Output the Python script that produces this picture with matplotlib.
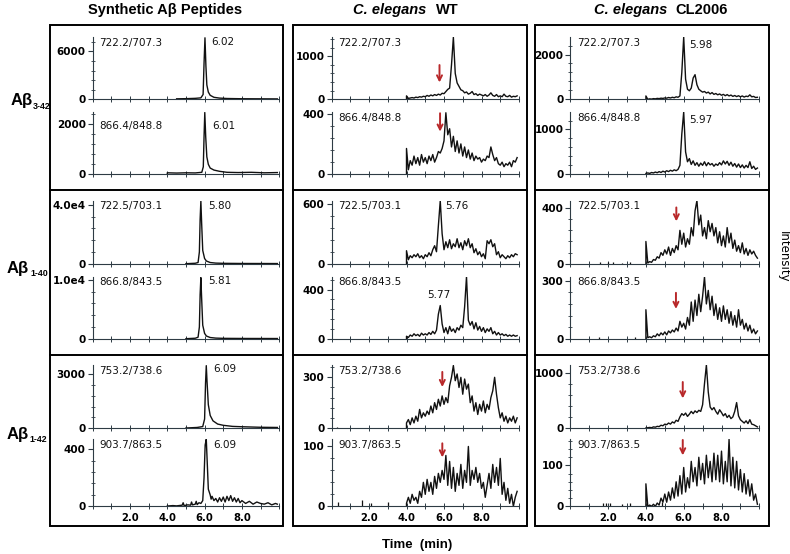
"""
LC-MS/MS chromatograms of Abeta peptides: synthetic standards vs C. elegans WT and CL2006
"""

import matplotlib
matplotlib.use("Agg")
import matplotlib.pyplot as plt
from matplotlib.lines import Line2D
from matplotlib.patches import Rectangle
from matplotlib.ticker import MultipleLocator

# ---------------------------------------------------------------- data
COLUMNS = ["Synthetic Aβ Peptides", "C. elegans", "C. elegans"]
STRAINS = ["", "WT", "CL2006"]
PEPTIDES = ["3-42", "1-40", "1-42"]
TRANSITIONS = ["722.2/707.3", "866.4/848.8", "722.5/703.1",
               "866.8/843.5", "753.2/738.6", "903.7/863.5"]

# time grid (min) used by the worm extracts, 4.0 .. 9.9
T_GRID = [4.0, 4.1, 4.2, 4.3, 4.4, 4.5, 4.6, 4.7, 4.8, 4.9,
          5.0, 5.1, 5.2, 5.3, 5.4, 5.5, 5.6, 5.7, 5.8, 5.9,
          6.0, 6.1, 6.2, 6.3, 6.4, 6.5, 6.6, 6.7, 6.8, 6.9,
          7.0, 7.1, 7.2, 7.3, 7.4, 7.5, 7.6, 7.7, 7.8, 7.9,
          8.0, 8.1, 8.2, 8.3, 8.4, 8.5, 8.6, 8.7, 8.8, 8.9,
          9.0, 9.1, 9.2, 9.3, 9.4, 9.5, 9.6, 9.7, 9.8, 9.9]

# synthetic standards
SYN_342_A_T = [4.5, 5.0, 5.5, 5.8, 5.92, 5.97, 6.02, 6.07, 6.12, 6.2, 6.3, 6.5, 6.8, 7.2, 8.0, 9.0, 9.9]
SYN_342_A = [60, 80, 120, 180, 600, 4500, 7700, 4200, 1800, 900, 500, 250, 150, 100, 70, 60, 50]
SYN_342_B_T = [4.0, 4.0, 4.5, 5.0, 5.5, 5.85, 5.93, 5.97, 6.01, 6.06, 6.12, 6.2, 6.3, 6.5, 6.8, 7.2,
               7.8, 8.5, 9.2, 9.9]
SYN_342_B = [0, 60, 50, 60, 55, 80, 300, 1500, 2480, 1500, 700, 400, 250, 170, 120, 80, 70, 80, 60, 70]
SYN_140_T = [5.0, 5.5, 5.65, 5.72, 5.76, 5.80, 5.84, 5.9, 6.0, 6.1, 6.3, 6.6, 7.0, 8.0, 9.9]
SYN_140_A = [0, 300, 800, 8000, 30000, 42500, 28000, 9000, 3500, 1800, 800, 400, 250, 150, 100]
SYN_140_B = [0, 80, 250, 2000, 7500, 10400, 7000, 2300, 900, 450, 200, 100, 60, 40, 30]
SYN_142_A_T = [5.0, 5.6, 5.9, 6.0, 6.05, 6.09, 6.13, 6.2, 6.3, 6.45, 6.7, 7.0, 7.5, 8.0, 9.0, 9.9]
SYN_142_A = [0, 30, 80, 500, 2500, 3480, 2600, 1300, 700, 400, 220, 150, 90, 70, 40, 30]
SYN_142_B_T = [4.0, 4.3, 4.5, 4.8, 4.85, 4.9, 5.1, 5.25, 5.3, 5.35,
               5.5, 5.55, 5.6, 5.7, 5.8, 5.9, 5.97, 6.03, 6.09, 6.15,
               6.2, 6.3, 6.35, 6.4, 6.5, 6.6, 6.7, 6.8, 6.9, 7.0,
               7.1, 7.2, 7.3, 7.4, 7.5, 7.6, 7.7, 7.8, 7.9, 8.0,
               8.2, 8.4, 8.6, 8.8, 9.0, 9.2, 9.4, 9.6, 9.8, 9.9]
SYN_142_B = [2, 5, 3, 8, 25, 5, 10, 8, 30, 10,
             15, 35, 12, 25, 20, 40, 200, 430, 470, 280,
             120, 80, 50, 70, 40, 55, 30, 60, 35, 65,
             30, 70, 40, 75, 35, 60, 30, 55, 25, 40,
             20, 35, 15, 30, 20, 15, 25, 10, 20, 15]

# C. elegans WT
WT_342_A = [80, 20, 30, 40, 30, 50, 40, 60, 50, 70,
            60, 90, 70, 100, 80, 110, 90, 120, 100, 140,
            130, 180, 230, 260, 800, 1440, 600, 380, 300, 220,
            200, 150, 170, 120, 140, 180, 110, 130, 90, 120,
            100, 80, 110, 70, 100, 150, 90, 70, 110, 60,
            80, 60, 120, 70, 60, 90, 50, 70, 60, 80]
WT_342_B = [170, 30, 90, 60, 120, 70, 110, 60, 130, 80,
            110, 70, 120, 90, 130, 80, 110, 150, 140, 170,
            220, 405, 260, 300, 180, 250, 150, 220, 140, 200,
            120, 180, 110, 160, 100, 140, 90, 120, 100, 110,
            80, 100, 90, 120, 110, 180, 130, 90, 110, 70,
            60, 80, 50, 70, 60, 80, 50, 90, 80, 110]
WT_140_A = [130, 40, 80, 60, 90, 70, 100, 60, 80, 50,
            90, 70, 110, 80, 140, 180, 120, 380, 630, 300,
            140, 220, 160, 240, 150, 200, 170, 250, 160, 210,
            140, 230, 180, 250, 160, 200, 110, 150, 90, 120,
            70, 100, 50, 230, 200, 240, 170, 200, 90, 120,
            60, 90, 70, 50, 80, 60, 90, 70, 100, 90]
WT_140_B = [20, 10, 30, 20, 40, 25, 35, 20, 45, 30,
            40, 30, 50, 35, 60, 40, 70, 200, 270, 120,
            50, 90, 40, 100, 60, 80, 50, 90, 70, 110,
            90, 260, 505, 150, 110, 140, 80, 130, 70, 100,
            60, 90, 50, 80, 60, 90, 40, 60, 30, 50,
            30, 40, 25, 35, 20, 30, 20, 30, 20, 25]
WT_142_A = [30, 50, 20, 60, 30, 70, 40, 110, 60, 90,
            70, 100, 80, 130, 90, 150, 110, 170, 130, 190,
            140, 180, 150, 250, 300, 370, 280, 320, 240, 300,
            200, 290, 230, 260, 150, 190, 100, 150, 80, 140,
            100, 160, 90, 140, 110, 180, 220, 300, 200, 120,
            60, 90, 40, 70, 30, 60, 40, 70, 30, 60]
WT_142_B = [5, 15, 5, 20, 10, 15, 5, 25, 15, 40,
            20, 45, 25, 40, 20, 50, 30, 55, 40, 60,
            45, 85, 35, 75, 30, 65, 25, 55, 35, 70,
            30, 60, 40, 100, 35, 60, 45, 65, 40, 55,
            30, 40, 15, 35, 55, 30, 70, 40, 65, 35,
            80, 20, 40, 10, 30, 5, 20, 0, 15, 25]
WT_142_A_BLIP_T = [0.3]
WT_142_A_BLIP = [6]
WT_142_B_BLIP_T = [0.36, 1.6, 2.13, 3.03]
WT_142_B_BLIP = [7, 11, 5, 7]

# C. elegans CL2006
CL_342_A = [150, 0, 20, 10, 30, 20, 40, 30, 50, 40,
            60, 50, 80, 60, 90, 70, 110, 90, 150, 1200,
            2780, 900, 450, 380, 500, 950, 1100, 650, 450, 380,
            320, 350, 280, 320, 240, 300, 220, 260, 200, 240,
            180, 220, 160, 210, 150, 190, 130, 170, 120, 160,
            110, 150, 100, 140, 120, 200, 110, 130, 80, 90]
CL_342_B = [20, 30, 20, 40, 30, 50, 35, 60, 40, 70,
            50, 80, 60, 90, 70, 100, 80, 110, 200, 900,
            1390, 500, 280, 350, 220, 300, 200, 260, 180, 250,
            200, 280, 190, 260, 210, 240, 180, 230, 200, 260,
            210, 300, 230, 290, 200, 270, 180, 240, 160, 230,
            150, 210, 140, 200, 150, 280, 130, 180, 110, 140]
CL_140_A = [160, 5, 15, 10, 30, 25, 50, 40, 80, 60,
            100, 70, 120, 60, 110, 80, 130, 100, 240, 140,
            220, 120, 180, 140, 260, 200, 380, 455, 280, 350,
            200, 260, 180, 310, 230, 290, 200, 260, 150, 230,
            130, 200, 120, 260, 150, 220, 110, 170, 90, 130,
            80, 150, 70, 110, 60, 100, 70, 90, 60, 40]
CL_140_B = [150, 5, 10, 5, 15, 10, 25, 15, 30, 20,
            35, 20, 40, 30, 45, 35, 55, 40, 90, 60,
            80, 50, 110, 70, 190, 90, 200, 120, 230, 140,
            220, 320, 180, 250, 150, 220, 120, 180, 100, 160,
            90, 170, 100, 150, 80, 140, 70, 120, 60, 150,
            70, 100, 50, 80, 40, 70, 30, 50, 25, 40]
CL_142_A = [0, 5, 10, 5, 20, 15, 30, 25, 50, 40,
            70, 60, 90, 70, 110, 90, 140, 120, 200, 260,
            230, 270, 210, 250, 300, 260, 310, 280, 320, 300,
            420, 800, 1140, 650, 380, 330, 370, 300, 250, 330,
            280, 220, 260, 190, 230, 170, 200, 300, 460, 220,
            150, 120, 90, 130, 80, 150, 70, 60, 40, 20]
CL_142_B = [55, 0, 3, 0, 5, 0, 8, 3, 20, 10,
            30, 10, 35, 15, 45, 20, 60, 25, 75, 30,
            95, 35, 70, 45, 110, 60, 95, 50, 120, 65,
            105, 55, 125, 70, 110, 60, 130, 65, 125, 60,
            135, 55, 110, 60, 164, 50, 120, 45, 110, 40,
            90, 35, 80, 30, 65, 25, 55, 15, 30, 5]
CL_140_A_BLIP_T = [1.58, 1.97, 2.27, 2.73, 3.17]
CL_140_A_BLIP = [15, 10, 12, 8, 10]
CL_140_B_BLIP_T = [1.5, 3.4]
CL_140_B_BLIP = [8, 8]
CL_142_B_BLIP_T = [1.72, 1.9, 2.11, 2.73, 3.17, 4.84]
CL_142_B_BLIP = [8, 7, 8, 6, 7, 10]

# y axis: top of each panel and its labelled tick
SYN_YMAX = [7800, 2500, 42900, 10560, 3517, 470]
WT_YMAX = [1446, 410, 633, 505, 373, 112]
CL_YMAX = [2782, 1390, 455, 321, 1140, 164]
SYN_YTICK = [(6000, "6000"), (2000, "2000"), (40000, "4.0e4"), (10000, "1.0e4"), (3000, "3000"), (400, "400")]
WT_YTICK = [(1000, "1000"), (400, "400"), (600, "600"), (400, "400"), (300, "300"), (100, "100")]
CL_YTICK = [(2000, "2000"), (1000, "1000"), (400, "400"), (300, "300"), (1000, "1000"), (100, "100")]

# ---------------------------------------------------------------- layout (pixels)
W, H = 790, 554
COL_LEFT = [92.7, 331.5, 570.3]
COL_W = [186.5, 187.5, 189.0]
ROW_TOP = [37.0, 112.0, 200.5, 276.7, 365.0, 439.3]
ROW_ZERO = [99.3, 174.3, 263.7, 338.7, 428.0, 506.3]
BOXES = [(50, 283.3), (292.7, 527.3), (535, 769.3)]
BOX_TOP, BOX_BOTTOM = 25, 525.7
DIVIDERS = [190, 355]

AX_COLOR = "#2e3b44"
LINE_COLOR = "#111111"
RED = "#b8282a"


def fx(x):
    return x / W


def fy(y):
    return 1 - y / H


# traces per column: (times, values, blips)
traces = [
    [(SYN_342_A_T, SYN_342_A, None), (SYN_342_B_T, SYN_342_B, None),
     (SYN_140_T, SYN_140_A, None), (SYN_140_T, SYN_140_B, None),
     (SYN_142_A_T, SYN_142_A, None), (SYN_142_B_T, SYN_142_B, None)],
    [([4.0] + T_GRID, [0] + WT_342_A, None), ([4.0] + T_GRID, [0] + WT_342_B, None),
     ([4.0] + T_GRID, [0] + WT_140_A, None), ([4.0] + T_GRID, [0] + WT_140_B, None),
     ([4.0] + T_GRID, [0] + WT_142_A, (WT_142_A_BLIP_T, WT_142_A_BLIP)),
     ([4.0] + T_GRID, [0] + WT_142_B, (WT_142_B_BLIP_T, WT_142_B_BLIP))],
    [([4.0] + T_GRID, [0] + CL_342_A, None), ([4.0] + T_GRID, [0] + CL_342_B, None),
     ([4.0] + T_GRID, [0] + CL_140_A, (CL_140_A_BLIP_T, CL_140_A_BLIP)),
     ([4.0] + T_GRID, [0] + CL_140_B, (CL_140_B_BLIP_T, CL_140_B_BLIP)),
     ([4.0] + T_GRID, [0] + CL_142_A, None),
     ([4.0] + T_GRID, [0] + CL_142_B, (CL_142_B_BLIP_T, CL_142_B_BLIP))],
]
ymaxes = [SYN_YMAX, WT_YMAX, CL_YMAX]
yticks = [SYN_YTICK, WT_YTICK, CL_YTICK]

# retention time labels: (col, row) -> (text, x, y axes fraction, ha)
peak_labels = {
    (0, 0): ("6.02", 6.34, 0.92, "left"), (0, 1): ("6.01", 6.41, 0.77, "left"),
    (0, 2): ("5.80", 6.17, 0.92, "left"), (0, 3): ("5.81", 6.17, 0.93, "left"),
    (0, 4): ("6.09", 6.47, 0.94, "left"), (0, 5): ("6.09", 6.47, 0.92, "left"),
    (1, 2): ("5.76", 6.09, 0.91, "left"), (1, 3): ("5.77", 5.70, 0.70, "center"),
    (2, 0): ("5.98", 6.28, 0.87, "left"), (2, 1): ("5.97", 6.28, 0.87, "left"),
}

# red arrows: (col, row) -> (x, tail fraction, tip fraction)
arrows = {
    (1, 0): (5.76, 0.55, 0.27), (1, 1): (5.79, 0.98, 0.685),
    (1, 4): (5.91, 0.89, 0.65), (1, 5): (5.91, 0.94, 0.73),
    (2, 2): (5.61, 0.89, 0.67), (2, 3): (5.59, 0.74, 0.48),
    (2, 4): (5.95, 0.73, 0.47), (2, 5): (5.95, 0.99, 0.76),
}

fig = plt.figure(figsize=(W / 100, H / 100), dpi=100)

for c in range(3):
    for r in range(6):
        left, width = COL_LEFT[c], COL_W[c]
        ax = fig.add_axes([fx(left), fy(ROW_ZERO[r]), width / W, (ROW_ZERO[r] - ROW_TOP[r]) / H])
        t, v, blips = traces[c][r]
        ax.plot(t, v, color=LINE_COLOR, lw=1.0)
        if blips is not None:
            ax.vlines(blips[0], 0, blips[1], color=LINE_COLOR, lw=0.9)

        ax.set_xlim(0, 10)
        ax.set_ylim(0, ymaxes[c][r])

        for side in ["top", "right"]:
            ax.spines[side].set_visible(False)
        for side in ["left", "bottom"]:
            ax.spines[side].set_color(AX_COLOR)
            ax.spines[side].set_linewidth(0.8)

        tick_val, tick_txt = yticks[c][r]
        ax.set_yticks([0, tick_val], labels=["0", tick_txt])
        ax.yaxis.set_minor_locator(MultipleLocator(tick_val / 5))
        ax.set_xticks([2, 4, 6, 8])
        ax.xaxis.set_minor_locator(MultipleLocator(1))
        if r == 5:
            ax.set_xticklabels(["2.0", "4.0", "6.0", "8.0"])
        else:
            ax.set_xticklabels([])

        ax.tick_params(axis="y", which="major", direction="out", length=3.5, width=0.8,
                       color=AX_COLOR, labelsize=7.5, pad=1.5)
        ax.tick_params(axis="y", which="minor", direction="inout", length=2.5, width=0.6, color=AX_COLOR)
        ax.tick_params(axis="x", which="both", direction="inout", length=4, width=0.7,
                       color=AX_COLOR, labelsize=7.2, pad=2.5)
        for lab in ax.get_yticklabels() + ax.get_xticklabels():
            lab.set_fontweight("bold")
        ax.patch.set_alpha(0)

        ty = 0.77 if (c, r) == (0, 1) else 0.91
        ax.text(0.035, ty, TRANSITIONS[r], transform=ax.transAxes, fontsize=7.5,
                ha="left", va="center", color="#111111")

        if (c, r) in peak_labels:
            txt, px, py, ha = peak_labels[(c, r)]
            ax.text(px, py, txt, transform=ax.get_xaxis_transform(), fontsize=7.5,
                    ha=ha, va="center", color="#111111")

        if (c, r) in arrows:
            ax_x, tail, tip = arrows[(c, r)]
            ax.annotate("", xy=(ax_x, tip), xytext=(ax_x, tail),
                        xycoords=ax.get_xaxis_transform(), textcoords=ax.get_xaxis_transform(),
                        arrowprops=dict(arrowstyle="->", color=RED, lw=1.4, mutation_scale=9,
                                        shrinkA=0, shrinkB=0))

# column boxes and dividers
for x0, x1 in BOXES:
    fig.add_artist(Rectangle((fx(x0), fy(BOX_BOTTOM)), (x1 - x0) / W, (BOX_BOTTOM - BOX_TOP) / H,
                             transform=fig.transFigure, fill=False, ec="black", lw=1.4))
    for yd in DIVIDERS:
        fig.add_artist(Line2D([fx(x0), fx(x1)], [fy(yd), fy(yd)], transform=fig.transFigure,
                              color="black", lw=1.4))

# column titles
title_font = dict(family="Liberation Sans", fontsize=10.5, fontweight="bold", va="center")
fig.text(fx(165.5), fy(10), COLUMNS[0], ha="center", **title_font)
fig.text(fx(426.7), fy(10), COLUMNS[1], ha="right", style="italic", **title_font)
fig.text(fx(435.7), fy(10), STRAINS[1], ha="left", **title_font)
fig.text(fx(667.3), fy(10), COLUMNS[2], ha="right", style="italic", **title_font)
fig.text(fx(675.7), fy(10), STRAINS[2], ha="left", **title_font)

# row labels
row_pos = [(11, 101, 32.5, 106), (7, 269, 30, 274), (6.5, 434, 29, 439)]
for pep, (xa, ya, xs, ys) in zip(PEPTIDES, row_pos):
    fig.text(fx(xa), fy(ya), "Aβ", family="Liberation Sans", fontsize=12, fontweight="bold",
             ha="left", va="center")
    fig.text(fx(xs), fy(ys), pep, family="Liberation Sans", fontsize=6.4, fontweight="bold",
             ha="left", va="center")

fig.text(fx(783), fy(257), "Intensity", rotation=270, fontsize=8.5, ha="center", va="center")
fig.text(fx(417), fy(545), "Time  (min)", family="Liberation Sans", fontsize=9.5,
         fontweight="bold", ha="center", va="center")

fig.savefig("out.png", dpi=100, facecolor="white")
